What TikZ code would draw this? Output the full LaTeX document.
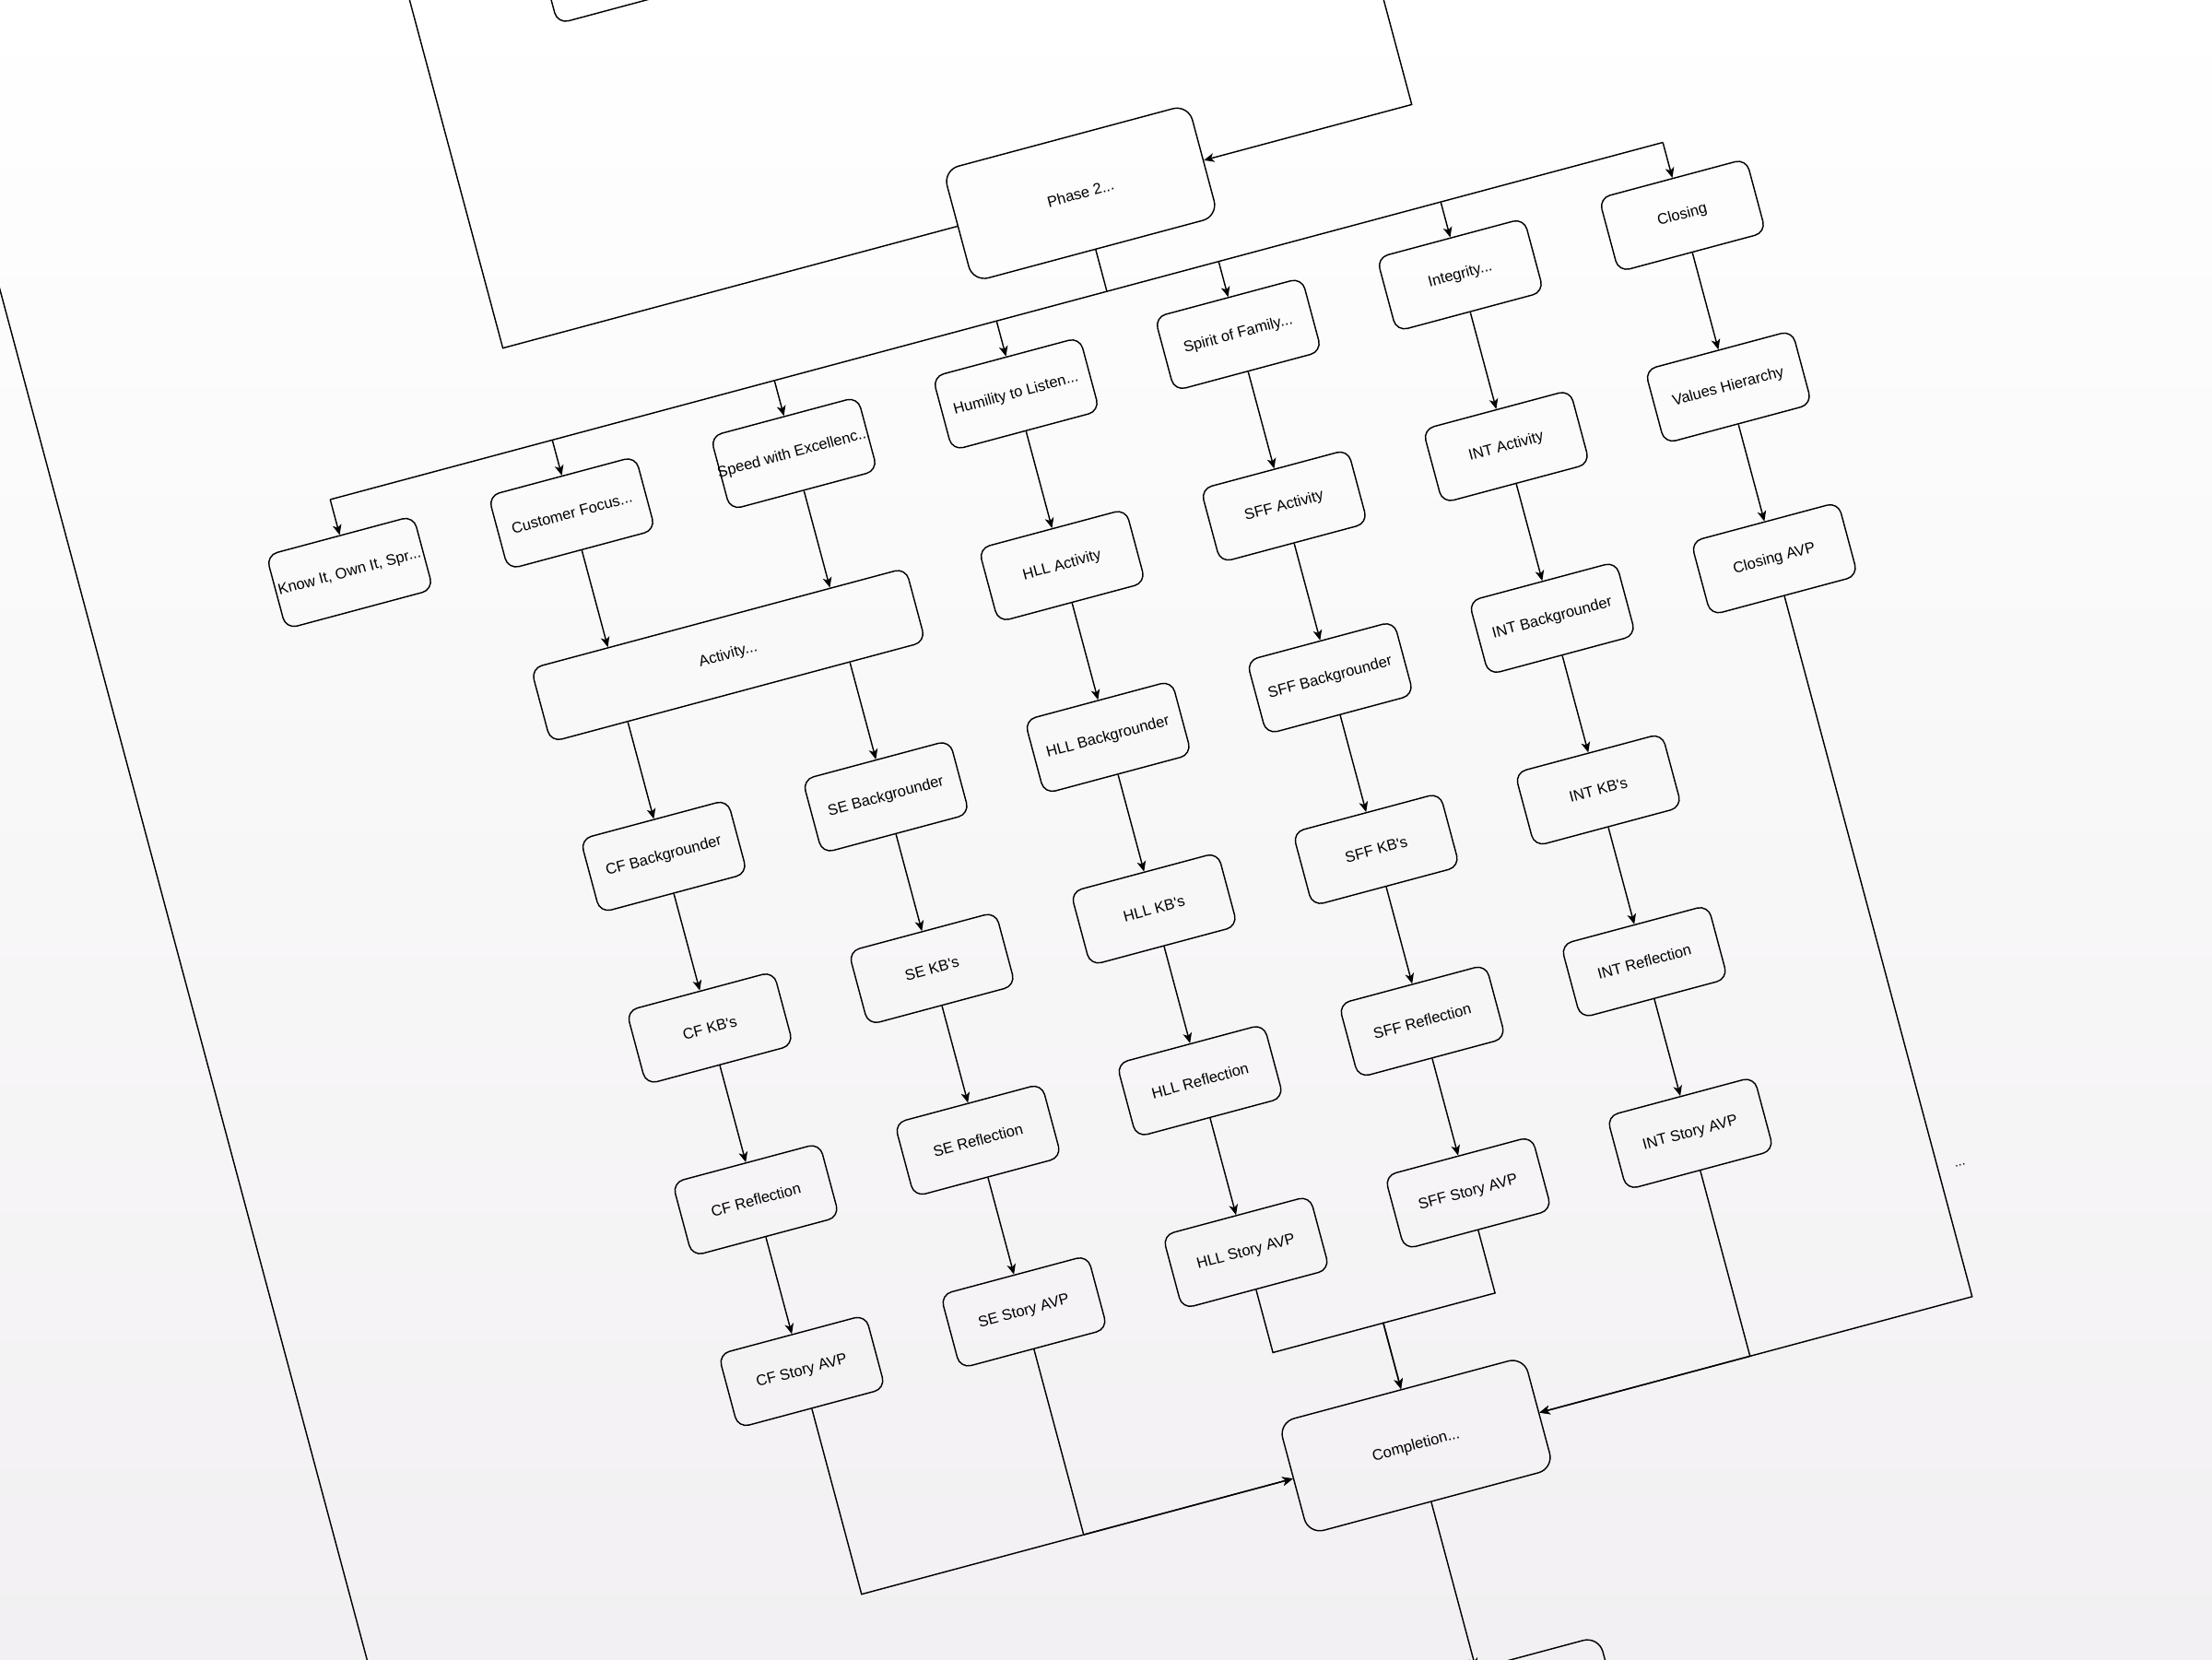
\documentclass[tikz,border=0pt]{standalone}
\usepackage{fontspec}
\setmainfont{Liberation Sans}
\usetikzlibrary{arrows.meta,calc}
\definecolor{bgbot}{RGB}{242,240,242}

\begin{document}
\begin{tikzpicture}[x=0.3mm,y=0.3mm, line width=0.8pt,
  every node/.style={font=\fontsize{9.2}{11}\selectfont,align=center},
  vbox/.style={draw,rounded corners=2.4mm,minimum width=32.4mm,minimum height=16.2mm,inner sep=0pt},
  bigbox/.style={draw,rounded corners=3.4mm,minimum width=54mm,minimum height=24.6mm,inner sep=0pt},
  arr/.style={-{Stealth[length=2.2mm,width=1.9mm,inset=0.6mm]}}]
\useasboundingbox (0,-1176) rectangle (1568,0);
\shade[top color=white,bottom color=bgbot] (0,-1176) rectangle (1568,0);
\clip (0,-1176) rectangle (1568,0);
\begin{scope}[shift={(766,-137)},rotate=15,transform shape]
% phase boxes
\node[vbox] (prev) at (-273,239) {};
\node[bigbox] (ph2) at (0,0) {Phase 2...};
\node[bigbox] (comp) at (0,-919) {Completion...};
\node[bigbox] (nxt) at (0,-1124) {};
% values
\node[vbox] (kio) at (-570,-125.5) {Know It, Own It, Spr...};
\node[vbox] (cfo) at (-407,-125.5) {Customer Focus...};
\node[vbox] (spd) at (-244,-125.5) {\makebox[26mm]{Speed with Excellenc...}};
\node[vbox] (hum) at (-81,-125.5) {Humility to Listen...};
\node[vbox] (sof) at (82,-125.5) {Spirit of Family...};
\node[vbox] (itg) at (245,-125.5) {Integrity...};
\node[vbox] (clo) at (408,-125.5) {Closing};
\node[vbox,minimum width=82.5mm] (act) at (-326,-251.5) {Activity...};
\node[vbox] (hll-act) at (-81,-251.5) {HLL Activity};
\node[vbox] (sff-act) at (82,-251.5) {SFF Activity};
\node[vbox] (int-act) at (245,-251.5) {INT Activity};
\node[vbox] (valh) at (408,-251.5) {Values Hierarchy};
\node[vbox] (clo-avp) at (408,-377.5) {Closing AVP};
\foreach \n/\t/\u in {cf/CF/-407,se/SE/-244,hll/HLL/-81,sff/SFF/82,int/INT/245}{
  \node[vbox] (\n-bg) at (\u,-377.5) {\t\ Backgrounder};
  \node[vbox] (\n-kb) at (\u,-503.5) {\t\ KB\textquotesingle s};
  \node[vbox] (\n-ref) at (\u,-629.5) {\t\ Reflection};
  \node[vbox] (\n-avp) at (\u,-755.5) {\t\ Story AVP};
  \draw[arr] (\n-bg) -- (\n-kb);
  \draw[arr] (\n-kb) -- (\n-ref);
  \draw[arr] (\n-ref) -- (\n-avp);
}
\coordinate (bus) at (0,-72);
\coordinate (jn) at (0,-829);
\coordinate (lup) at (-424,320);
\coordinate (rup) at (243,320);
\coordinate (fa) at (-757.6,420);
\coordinate (fb) at (-757.6,-1250);
% connectors
\draw (fa) -- (fb);
\draw (ph2.west) -- (ph2.west -| lup) -- (lup);
\draw[arr] (rup) -- (rup |- ph2.east) -- (ph2.east);
\draw (ph2.south) -- (ph2.south |- bus);
\draw (bus -| kio) -- (bus -| clo);
\foreach \n in {kio,cfo,spd,hum,sof,itg,clo} \draw[arr] (bus -| \n) -- (\n);
\draw[arr] (cfo) -- (act.north -| cfo);
\draw[arr] (spd) -- (act.north -| spd);
\draw[arr] (act.south -| cf-bg) -- (cf-bg);
\draw[arr] (act.south -| se-bg) -- (se-bg);
\draw[arr] (hum) -- (hll-act); \draw[arr] (hll-act) -- (hll-bg);
\draw[arr] (sof) -- (sff-act); \draw[arr] (sff-act) -- (sff-bg);
\draw[arr] (itg) -- (int-act); \draw[arr] (int-act) -- (int-bg);
\draw[arr] (clo) -- (valh); \draw[arr] (valh) -- (clo-avp);
\draw[arr] (cf-avp) -- (cf-avp |- comp) -- (comp.west);
\draw[arr] (se-avp) -- (se-avp |- comp) -- (comp.west);
\draw[arr] (hll-avp) -- (hll-avp |- jn) -- (jn) -- (comp);
\draw[arr] (sff-avp) -- (sff-avp |- jn) -- (jn) -- (comp);
\draw[arr] (int-avp) -- (int-avp |- comp) -- (comp.east);
\draw[arr] (clo-avp) -- (clo-avp |- comp) -- (comp.east);
\node[font=\fontsize{8}{9}\selectfont] (dots) at (424,-827) {...};
\draw[arr] (comp) -- (nxt);
\end{scope}
\end{tikzpicture}
\end{document}
